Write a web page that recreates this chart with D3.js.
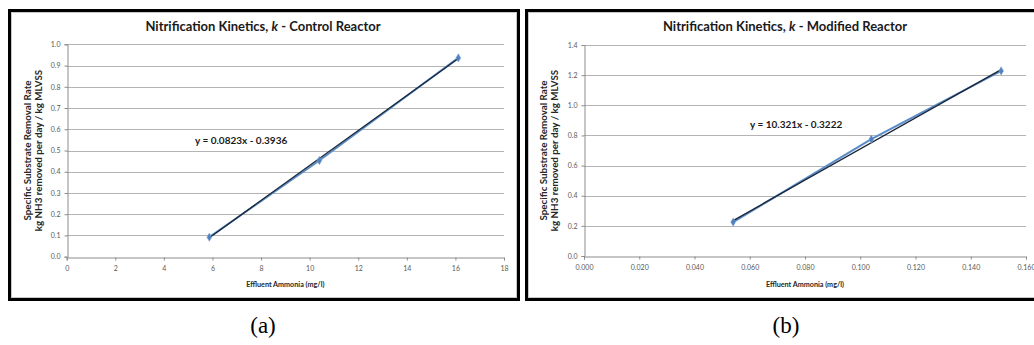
<!DOCTYPE html>
<html>
<head>
<meta charset="utf-8">
<script src="https://cdn.jsdelivr.net/npm/d3@7"></script>
<style>
  html, body { margin: 0; padding: 0; background: #fff; }
  svg { display: block; }
</style>
</head>
<body>
<svg id="chart" width="1034" height="345"></svg>
<script>
// ---- Data ----
const titlesA = ["Nitrification Kinetics, ", "k", " - Control Reactor"];
const titlesB = ["Nitrification Kinetics, ", "k", " - Modified Reactor"];
const xTitle = "Effluent Ammonia (mg/l)";
const yTitle1 = "Specific Substrate Removal Rate";
const yTitle2 = "kg NH3 removed per day / kg MLVSS";

const ammoniaA = [5.87, 10.4, 16.12];
const rateA = [0.092, 0.453, 0.936];
const trendA = [0.0823, -0.3936];
const equationA = "y = 0.0823x - 0.3936";
const xTicksA = [0, 2, 4, 6, 8, 10, 12, 14, 16, 18];
const yTicksA = [0, 0.1, 0.2, 0.3, 0.4, 0.5, 0.6, 0.7, 0.8, 0.9, 1.0];

const ammoniaB = [0.054, 0.104, 0.151];
const rateB = [0.225, 0.775, 1.228];
const trendB = [10.321, -0.3222];
const equationB = "y = 10.321x - 0.3222";
const xTicksB = [0, 0.02, 0.04, 0.06, 0.08, 0.10, 0.12, 0.14, 0.16];
const yTicksB = [0, 0.2, 0.4, 0.6, 0.8, 1.0, 1.2, 1.4];

const panelLabels = ["(a)", "(b)"];

// ---- Drawing ----
const svg = d3.select("#chart");
const FONT = "Lato, 'Open Sans', sans-serif";

function drawPanel(cfg) {
  const g = svg.append("g");
  // frame
  g.append("rect")
    .attr("x", cfg.frame[0] + 1.5).attr("y", cfg.frame[1] + 1.5)
    .attr("width", cfg.frame[2] - 3).attr("height", cfg.frame[3] - 3)
    .attr("fill", "#fff").attr("stroke", "#000").attr("stroke-width", 3);
  g.append("rect")
    .attr("x", cfg.frame[0] + 3.5).attr("y", cfg.frame[1] + 3.5)
    .attr("width", cfg.frame[2] - 7).attr("height", cfg.frame[3] - 7)
    .attr("fill", "none").attr("stroke", "#c8c8c8").attr("stroke-width", 1);

  const x = d3.scaleLinear().domain(cfg.xDomain).range([cfg.plot[0], cfg.plot[1]]);
  const y = d3.scaleLinear().domain(cfg.yDomain).range([cfg.plot[3], cfg.plot[2]]);

  // gridlines
  g.append("g").selectAll("line").data(cfg.yTicks.filter(d => d > 0)).join("line")
    .attr("x1", cfg.plot[0]).attr("x2", cfg.plot[1])
    .attr("y1", d => Math.round(y(d)) + 0.5).attr("y2", d => Math.round(y(d)) + 0.5)
    .attr("stroke", "#b4b4b4").attr("stroke-width", 1);

  // y axis
  const yAxis = g.append("g")
    .attr("transform", `translate(${Math.round(cfg.plot[0]) + 0.5},0)`)
    .call(d3.axisLeft(y).tickValues(cfg.yTicks).tickFormat(d3.format(".1f")).tickSize(3).tickPadding(4));
  yAxis.select(".domain").attr("stroke", "#8c8c8c");
  yAxis.selectAll(".tick line").attr("stroke", "#8c8c8c");
  yAxis.selectAll("text").attr("font-family", FONT).attr("font-size", 7).attr("fill", "#595959");

  // x axis
  const xAxis = g.append("g")
    .attr("transform", `translate(0,${Math.round(cfg.plot[3]) + 0.5})`)
    .call(d3.axisBottom(x).tickValues(cfg.xTicks).tickFormat(d3.format(cfg.xFormat)).tickSize(3).tickPadding(6));
  xAxis.select(".domain").attr("stroke", "#8c8c8c");
  xAxis.selectAll(".tick line").attr("stroke", "#8c8c8c");
  xAxis.selectAll("text").attr("font-family", FONT).attr("font-size", 7).attr("fill", "#595959");

  // title
  const cx = (cfg.plot[0] + cfg.plot[1]) / 2;
  const t = g.append("text")
    .attr("x", cfg.titleX).attr("y", 31)
    .attr("text-anchor", "middle")
    .attr("font-family", FONT).attr("font-weight", "bold").attr("font-size", 13)
    .attr("fill", "#1a1a1a");
  t.append("tspan").text(cfg.title[0]);
  t.append("tspan").attr("font-style", "italic").text(cfg.title[1]);
  t.append("tspan").text(cfg.title[2]);

  // x axis title
  g.append("text")
    .attr("x", cx).attr("y", 287)
    .attr("text-anchor", "middle")
    .attr("font-family", FONT).attr("font-weight", "bold").attr("font-size", 7.2)
    .attr("fill", "#262626").text(xTitle);

  // y axis title (two lines)
  const cy = (cfg.plot[2] + cfg.plot[3]) / 2;
  [yTitle1, yTitle2].forEach((txt, i) => {
    g.append("text")
      .attr("transform", `translate(${cfg.yTitleX[i]},${cy}) rotate(-90)`)
      .attr("text-anchor", "middle")
      .attr("font-family", FONT).attr("font-weight", "bold").attr("font-size", 9.8)
      .attr("fill", "#262626").text(txt);
  });

  // series line
  const pts = cfg.xs.map((v, i) => [v, cfg.ys[i]]);
  g.append("path")
    .datum(pts)
    .attr("d", d3.line().x(d => x(d[0])).y(d => y(d[1])))
    .attr("fill", "none").attr("stroke", "#5b8cc8").attr("stroke-width", 2);

  // trendline
  const x0 = d3.min(cfg.xs), x1 = d3.max(cfg.xs);
  const tr = [[x0, cfg.trend[0] * x0 + cfg.trend[1]], [x1, cfg.trend[0] * x1 + cfg.trend[1]]];
  g.append("path")
    .datum(tr)
    .attr("d", d3.line().x(d => x(d[0])).y(d => y(d[1])))
    .attr("fill", "none").attr("stroke", "#1a2638").attr("stroke-width", 1.3);

  // markers
  g.append("g").selectAll("path").data(pts).join("path")
    .attr("transform", d => `translate(${x(d[0])},${y(d[1])})`)
    .attr("d", d3.symbol().type(d3.symbolDiamond).size(20))
    .attr("fill", "#4f81bd").attr("stroke", "#7aa2d4").attr("stroke-width", 0.5);

  // equation
  g.append("text")
    .attr("x", cfg.eqPos[0]).attr("y", cfg.eqPos[1])
    .attr("font-family", FONT).attr("font-weight", "bold").attr("font-size", 10)
    .attr("fill", "#1a1a1a").text(cfg.equation);

  // panel label
  svg.append("text")
    .attr("x", cfg.labelX).attr("y", 333)
    .attr("text-anchor", "middle")
    .attr("font-family", "'Liberation Serif', 'Times New Roman', serif")
    .attr("font-size", 23).attr("fill", "#000").text(cfg.label);
}

drawPanel({
  frame: [8, 9, 512, 292],
  plot: [66.7, 504, 44.3, 256.7],
  xDomain: [0, 18], yDomain: [0, 1.0],
  xTicks: xTicksA, yTicks: yTicksA, xFormat: "d",
  xs: ammoniaA, ys: rateA, trend: trendA,
  title: titlesA, titleX: 263,
  yTitleX: [31, 42],
  equation: equationA, eqPos: [195, 144],
  label: panelLabels[0], labelX: 263
});

drawPanel({
  frame: [525, 9, 520, 292],
  plot: [584, 1026, 45, 256],
  xDomain: [0, 0.16], yDomain: [0, 1.4],
  xTicks: xTicksB, yTicks: yTicksB, xFormat: ".3f",
  xs: ammoniaB, ys: rateB, trend: trendB,
  title: titlesB, titleX: 785,
  yTitleX: [547, 558],
  equation: equationB, eqPos: [750, 128],
  label: panelLabels[1], labelX: 786
});
</script>
</body>
</html>
